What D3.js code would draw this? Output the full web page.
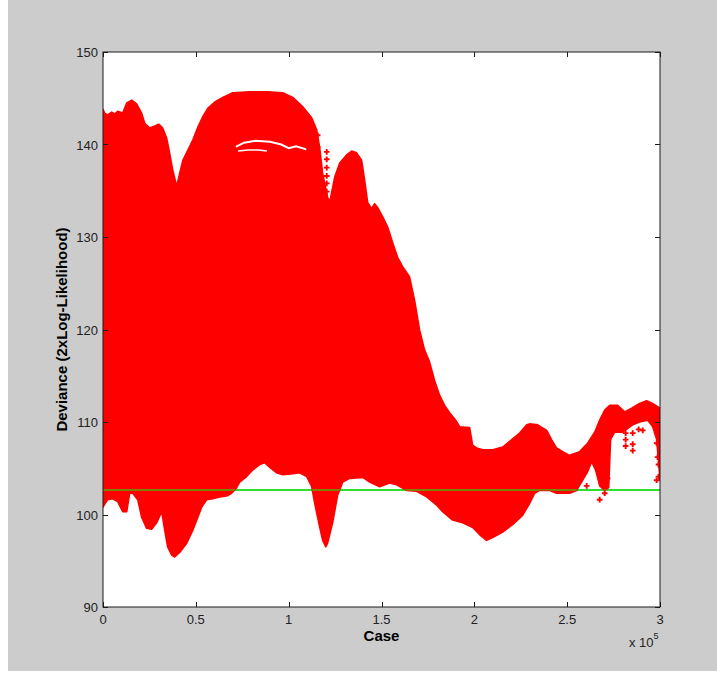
<!DOCTYPE html>
<html>
<head>
<meta charset="utf-8">
<script src="https://cdn.jsdelivr.net/npm/d3@7"></script>
<style>
  body { margin: 0; background: #fff; }
  svg text { font-family: Arial, "Liberation Sans", sans-serif; }
</style>
</head>
<body>
<div id="chart"></div>
<script>
// ── Data (case in thousands, deviance) ───────────────────────────────────────
const upperCase = [0, 0.9, 2.5, 4.7, 6.3, 7.9, 10.6, 12.8, 15.5, 18.1, 20.8, 22.5, 25.1, 27.8, 30.0, 32.1,
  34.3, 35.9, 37.5, 39.7, 41.3, 43.0, 45.7, 48.4, 51.1, 53.7, 56.4, 60.2, 64.5, 69.9, 79.0, 88.2, 96.8,
  102.2, 107.5, 112.4, 115.1, 116.7, 118.3, 121.0, 122.1, 124.8, 127.5, 131.3, 133.9, 136.6, 139.3, 140.9,
  142.6, 144.7, 146.3, 147.9, 150.6, 153.3, 156.0, 158.7, 161.4, 165.1, 167.8, 170.6, 173.2, 175.9, 178.6,
  181.3, 184.0, 186.7, 190.0, 192.1, 197.5, 199.1, 201.3, 204.5, 209.9, 215.3, 220.1, 224.4, 228.2, 229.8,
  234.1, 239.0, 241.6, 244.3, 247.6, 251.3, 256.7, 261.0, 264.8, 267.5, 270.2, 272.9, 277.2, 281.0, 284.7,
  289.0, 292.8, 296.0, 300];
const upperDev = [143.8, 143.4, 143.2, 143.5, 143.3, 143.6, 143.4, 144.5, 144.8, 144.4, 143.4, 142.3, 141.8,
  142.0, 142.2, 141.8, 140.7, 139.1, 137.3, 135.5, 136.9, 138.3, 139.4, 140.5, 141.9, 143.0, 143.9, 144.6,
  145.1, 145.6, 145.7, 145.7, 145.6, 145.1, 144.1, 142.9, 141.6, 139.7, 136.9, 134.3, 133.8, 136.5, 138.0,
  138.9, 139.3, 139.1, 138.3, 136.2, 133.7, 133.1, 133.6, 133.2, 132.2, 131.1, 129.4, 127.8, 126.8, 125.7,
  123.2, 119.9, 117.8, 116.5, 114.5, 112.9, 111.8, 111.0, 110.2, 109.5, 109.4, 107.5, 107.2, 107.0, 107.0,
  107.3, 108.1, 108.8, 109.7, 109.8, 109.7, 109.1, 108.1, 107.2, 106.8, 106.4, 106.8, 107.7, 108.9, 110.2,
  111.3, 111.8, 111.8, 111.1, 111.5, 112.0, 112.3, 112.0, 111.5];

const lowerCase = [0, 2.5, 5.2, 7.9, 10.6, 12.8, 14.4, 16.0, 18.7, 20.8, 23.5, 26.2, 28.9, 31.6, 33.2, 34.8,
  37.0, 38.6, 41.3, 45.1, 48.4, 51.1, 53.2, 55.9, 59.1, 62.8, 66.6, 69.3, 72.0, 73.6, 77.4, 80.6, 84.4, 87.1,
  89.8, 93.5, 96.8, 102.2, 105.9, 109.7, 112.4, 114.0, 116.7, 118.3, 120.0, 121.0, 123.7, 126.4, 129.1,
  132.9, 139.9, 143.6, 149.0, 154.4, 158.1, 163.5, 168.9, 174.3, 179.7, 182.9, 188.3, 193.7, 199.1, 202.9,
  206.6, 209.9, 215.3, 220.6, 226.0, 229.8, 232.5, 235.2, 240.6, 244.3, 251.3, 255.1, 258.3, 261.0, 263.2,
  265.3, 267.5, 270.2, 272.4, 273.4, 275.6, 279.9, 285.3, 289.0, 293.3, 296.0, 298.2, 300];
const lowerDev = [100.8, 101.6, 101.7, 101.4, 100.3, 100.3, 102.3, 102.3, 101.6, 99.7, 98.5, 98.4, 99.1,
  100.3, 98.3, 96.5, 95.6, 95.4, 95.9, 96.9, 98.3, 99.7, 100.8, 101.6, 101.7, 101.9, 102.0, 102.3, 102.9,
  103.5, 104.1, 104.8, 105.4, 105.6, 105.1, 104.5, 104.3, 104.4, 104.5, 104.1, 103.0, 101.2, 98.6, 97.2,
  96.5, 96.9, 99.1, 102.1, 103.5, 103.9, 104.0, 103.5, 103.0, 103.4, 103.2, 102.6, 102.5, 101.9, 101.0,
  100.3, 99.4, 99.1, 98.6, 97.8, 97.2, 97.5, 98.1, 98.9, 99.9, 101.2, 102.3, 102.6, 102.6, 102.3, 102.3,
  102.6, 103.7, 104.6, 105.7, 104.8, 103.1, 102.6, 102.9, 108.1, 108.9, 108.9, 109.7, 110.0, 110.2, 109.5,
  108.1, 103.7];

// isolated markers outside the dense band
const pointCase = [281.5, 281.5, 281.5, 285.3, 285.3, 285.3, 288.5, 290.7, 260.5, 267.5, 270.2, 269.1, 271.8,
  298.2, 298.7, 299.2, 299.2, 298.2, 120.5, 120.5, 120.5, 120.5, 120.5, 120.5, 115.6, 115.6];
const pointDev = [108.8, 108.1, 107.4, 108.8, 107.6, 106.9, 109.2, 109.1, 103.1, 101.6, 102.3, 103.1, 103.9,
  107.7, 106.2, 105.4, 104.1, 103.7, 139.2, 138.4, 137.5, 136.6, 135.8, 134.9, 141.0, 139.7];

// white gaps inside the band near deviance 140
const gapACase = [72, 76, 82, 90, 96, 100, 104, 109];
const gapADev  = [139.8, 140.2, 140.4, 140.3, 140.0, 139.6, 139.8, 139.5];
const gapBCase = [73, 78, 84, 88];
const gapBDev  = [139.3, 139.4, 139.4, 139.3];

const refDev = 102.65;   // green reference line

const xTicks = [0, 50, 100, 150, 200, 250, 300];
const xTickLabels = ['0', '0.5', '1', '1.5', '2', '2.5', '3'];
const yTicks = [90, 100, 110, 120, 130, 140, 150];

// ── Layout ───────────────────────────────────────────────────────────────────
const W = 717, H = 678;
const L = 103, R = 660, T = 52, B = 607;

const svg = d3.select('#chart').append('svg')
  .attr('width', W).attr('height', H);

svg.append('rect')
  .attr('x', 8).attr('y', 0).attr('width', W - 8).attr('height', 671)
  .attr('fill', '#cccccc');

const x = d3.scaleLinear().domain([0, 300]).range([L, R]);
const y = d3.scaleLinear().domain([90, 150]).range([B, T]);

svg.append('rect')
  .attr('x', L).attr('y', T).attr('width', R - L).attr('height', B - T)
  .attr('fill', '#fff');

const defs = svg.append('defs');
defs.append('clipPath').attr('id', 'plot-clip')
  .append('rect').attr('x', L).attr('y', T).attr('width', R - L).attr('height', B - T);

// ── Band (upper envelope forward, lower envelope back) ──────────────────────
const bandPts = upperCase.map((c, i) => [c, upperDev[i]])
  .concat(lowerCase.map((c, i) => [c, lowerDev[i]]).reverse());

const line = d3.line().x(d => x(d[0])).y(d => y(d[1]));
const bandPath = line(bandPts) + 'Z';

defs.append('clipPath').attr('id', 'band-clip')
  .append('path').attr('d', bandPath);

const plot = svg.append('g').attr('clip-path', 'url(#plot-clip)');

// green line under the band
plot.append('line')
  .attr('x1', L).attr('x2', R).attr('y1', y(refDev)).attr('y2', y(refDev))
  .attr('stroke', '#2fe02f').attr('stroke-width', 2);

plot.append('path')
  .attr('d', bandPath)
  .attr('fill', '#ff0000')
  .attr('stroke', '#ff0000')
  .attr('stroke-width', 1.5)
  .attr('stroke-linejoin', 'round');

// white gaps
[[gapACase, gapADev, 2], [gapBCase, gapBDev, 1.5]].forEach(([cs, ds, w]) => {
  plot.append('path')
    .attr('d', line(cs.map((c, i) => [c, ds[i]])))
    .attr('fill', 'none').attr('stroke', '#fff').attr('stroke-width', w)
    .attr('stroke-linecap', 'round');
});

// isolated markers
const sym = d3.symbol().type(d3.symbolCross).size(18);
plot.selectAll('.pt').data(pointCase).enter().append('path')
  .attr('class', 'pt')
  .attr('transform', (c, i) => `translate(${x(c)},${y(pointDev[i])})`)
  .attr('d', sym)
  .attr('fill', '#ff0000');

// line seen through the markers (red + green mix)
plot.append('g').attr('clip-path', 'url(#band-clip)')
  .append('line')
  .attr('x1', L).attr('x2', R).attr('y1', y(refDev)).attr('y2', y(refDev))
  .attr('stroke', '#808000').attr('stroke-width', 2);

// ── Axes box and ticks (inward, all four sides) ─────────────────────────────
const axisCol = '#1a1a1a';
const tickLen = 5;

svg.append('rect')
  .attr('x', L).attr('y', T).attr('width', R - L).attr('height', B - T)
  .attr('fill', 'none').attr('stroke', axisCol).attr('stroke-width', 1);

xTicks.forEach((t, i) => {
  const px = Math.round(x(t)) + 0.5;
  svg.append('line').attr('x1', px).attr('x2', px).attr('y1', B).attr('y2', B - tickLen)
    .attr('stroke', axisCol);
  svg.append('line').attr('x1', px).attr('x2', px).attr('y1', T).attr('y2', T + tickLen)
    .attr('stroke', axisCol);
  svg.append('text')
    .attr('x', x(t)).attr('y', B + 17)
    .attr('text-anchor', 'middle')
    .attr('font-size', 13).attr('fill', '#222')
    .text(xTickLabels[i]);
});

yTicks.forEach(t => {
  const py = Math.round(y(t)) + 0.5;
  svg.append('line').attr('x1', L).attr('x2', L + tickLen).attr('y1', py).attr('y2', py)
    .attr('stroke', axisCol);
  svg.append('line').attr('x1', R).attr('x2', R - tickLen).attr('y1', py).attr('y2', py)
    .attr('stroke', axisCol);
  svg.append('text')
    .attr('x', L - 5).attr('y', y(t) + 5)
    .attr('text-anchor', 'end')
    .attr('font-size', 13).attr('fill', '#222')
    .text(t);
});

// ── Labels ──────────────────────────────────────────────────────────────────
svg.append('text')
  .attr('x', (L + R) / 2).attr('y', 641)
  .attr('text-anchor', 'middle')
  .attr('font-size', 15).attr('font-weight', 'bold').attr('fill', '#000')
  .text('Case');

svg.append('text')
  .attr('transform', `translate(67, ${(T + B) / 2}) rotate(-90)`)
  .attr('text-anchor', 'middle')
  .attr('font-size', 15).attr('font-weight', 'bold').attr('fill', '#000')
  .text('Deviance (2xLog-Likelihood)');

const expo = svg.append('text')
  .attr('x', 629).attr('y', 647)
  .attr('font-size', 13).attr('fill', '#222');
expo.append('tspan').text('x 10');
expo.append('tspan').attr('dy', -8).attr('font-size', 9).text('5');
</script>
</body>
</html>
